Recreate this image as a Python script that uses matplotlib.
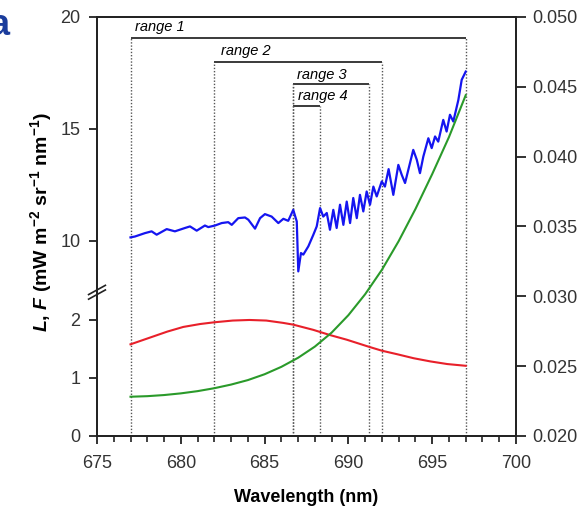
import matplotlib
matplotlib.use("Agg")
import matplotlib.pyplot as plt
import matplotlib.ticker as mticker
import numpy as np

plt.rcParams['font.family'] = ['Liberation Sans', 'DejaVu Sans']
plt.rcParams['mathtext.fontset'] = 'custom'
plt.rcParams['mathtext.rm'] = 'Liberation Sans:bold'
plt.rcParams['mathtext.it'] = 'Liberation Sans:italic:bold'
plt.rcParams['mathtext.bf'] = 'Liberation Sans:bold'

# radiance L (upper part of the broken axis)
wl_L = [677.0, 677.27, 677.86, 678.26, 678.56, 679.16, 679.65, 680.25, 680.55, 680.95,
        681.44, 681.64, 682.04, 682.44, 682.83, 683.04, 683.43, 683.83, 684.03, 684.43,
        684.73, 685.02, 685.42, 685.82, 686.12, 686.41, 686.71, 686.92, 687.01, 687.17,
        687.31, 687.61, 687.91, 688.11, 688.31, 688.50, 688.71, 688.90, 689.10, 689.30,
        689.50, 689.70, 689.90, 690.10, 690.29, 690.50, 690.69, 690.89, 691.09, 691.29,
        691.49, 691.69, 691.99, 692.18, 692.40, 692.68, 692.98, 693.18, 693.38, 693.87,
        694.08, 694.27, 694.47, 694.77, 694.97, 695.17, 695.36, 695.66, 695.86, 696.06,
        696.26, 696.56, 696.76, 697.0]
L = [10.15, 10.19, 10.34, 10.42, 10.27, 10.52, 10.42, 10.57, 10.64, 10.45,
     10.68, 10.61, 10.68, 10.79, 10.83, 10.71, 11.01, 11.04, 10.94, 10.54,
     11.01, 11.19, 11.08, 10.79, 10.98, 10.89, 11.38, 10.86, 8.63, 9.45,
     9.38, 9.75, 10.27, 10.64, 11.46, 11.08, 11.24, 10.49, 11.38, 10.57,
     11.61, 10.71, 11.75, 10.79, 11.91, 11.01, 12.05, 11.31, 12.20, 11.61,
     12.42, 11.98, 12.65, 12.42, 13.20, 12.05, 13.39, 12.95, 12.58, 14.06,
     13.62, 13.02, 13.76, 14.58, 14.14, 14.66, 14.43, 15.40, 14.88, 15.63,
     15.33, 16.29, 17.19, 17.56]

# red curve (lower part of the broken axis)
wl_red = [677.0, 678.2, 679.2, 680.15, 681.15, 682.0, 683.1, 684.1, 685.1, 686.1,
          686.7, 687.9, 688.9, 689.9, 691.2, 692.0, 692.9, 693.9, 694.9, 695.9, 697.0]
red = [1.58, 1.70, 1.80, 1.88, 1.93, 1.96, 1.99, 2.00, 1.99, 1.95,
       1.92, 1.83, 1.74, 1.66, 1.54, 1.47, 1.41, 1.34, 1.285, 1.24, 1.21]

# green curve (right axis)
wl_green = [677, 678, 679, 680, 681, 682, 683, 684, 685, 686, 687,
            688, 689, 690, 691, 692, 693, 694, 695, 696, 697]
green = [0.02281, 0.02285, 0.02293, 0.02305, 0.02321, 0.02342, 0.02368, 0.02400,
         0.02442, 0.02495, 0.02560, 0.02640, 0.02740, 0.02865, 0.03015, 0.03190,
         0.03395, 0.03625, 0.03875, 0.04140, 0.04440]

# spectral ranges: label, start, end, bracket height on the L axis
range_names = ['range 1', 'range 2', 'range 3', 'range 4']
range_start = [677.0, 682.0, 686.7, 686.7]
range_end = [697.0, 692.0, 691.2, 688.3]
range_level = [19.05, 18.0, 17.0, 16.0]
range_top = [19.05, 18.0, 17.0, 17.0]      # top of the left dotted guide
range_top_end = [19.05, 18.0, 17.0, 16.0]  # top of the right dotted guide

left_ticks = [0, 1, 2, 10, 15, 20]

# broken left axis: 0-2.5 and 7.8-20 share the height, the gap squeezed flat
KV = np.array([0.0, 2.5, 7.8, 20.0])
KP = np.array([0.0, 145.0, 146.0, 419.0])


def fwd(v):
    v = np.asarray(v, float)
    return np.where(v < 0, v * 58.0,
                    np.where(v > 20, 419.0 + (v - 20) * 22.4, np.interp(v, KV, KP)))


def inv(p):
    p = np.asarray(p, float)
    return np.where(p < 0, p / 58.0,
                    np.where(p > 419, 20 + (p - 419.0) / 22.4, np.interp(p, KP, KV)))


fig = plt.figure(figsize=(5.79, 5.14), dpi=100)
ax = fig.add_axes([0.1675, 0.1518, 0.7237, 0.8152])
ax.set_yscale('function', functions=(fwd, inv))
ax.set_xlim(675, 700)
ax.set_ylim(0, 20)

ax2 = ax.twinx()
ax2.set_ylim(0.020, 0.050)

# ranges: brackets, dotted guides and labels
for name, a, b, lev, t0, t1 in zip(range_names, range_start, range_end,
                                   range_level, range_top, range_top_end):
    ax.plot([a, b], [lev, lev], color='#3a3a3a', lw=1.4, solid_capstyle='butt')
    ax.vlines(a, 0, t0, colors='#555555', linestyles=(0, (1, 1.3)), lw=1.0)
    ax.vlines(b, 0, t1, colors='#555555', linestyles=(0, (1, 1.3)), lw=1.0)
ax.text(677.25, 19.55, range_names[0], style='italic', fontsize=10.5, va='center')
ax.text(682.4, 18.5, range_names[1], style='italic', fontsize=10.5, va='center')
ax.text(686.95, 17.42, range_names[2], style='italic', fontsize=10.5, va='center')
ax.text(687.0, 16.45, range_names[3], style='italic', fontsize=10.5, va='center')

ax.plot(wl_L, L, color='#1515f0', lw=1.6, solid_joinstyle='round')
ax.plot(wl_red, red, color='#e8202a', lw=1.5)
ax2.plot(wl_green, green, color='#2a9a2a', lw=1.5)

# axes styling
for a_ in (ax, ax2):
    for s in a_.spines.values():
        s.set_color('#222222')
        s.set_linewidth(1.3)
ax.yaxis.set_major_locator(mticker.FixedLocator(left_ticks))
ax.yaxis.set_minor_locator(mticker.NullLocator())
ax.yaxis.set_major_formatter(mticker.FormatStrFormatter('%d'))
ax.xaxis.set_major_locator(mticker.MultipleLocator(5))
ax.xaxis.set_minor_locator(mticker.MultipleLocator(1))
ax.tick_params(axis='both', which='major', labelsize=13, length=6, width=1.3,
               color='#222222', labelcolor='#333333', pad=6)
ax.tick_params(axis='x', which='major', pad=8)
ax.tick_params(axis='x', which='minor', length=4, width=1.2, color='#222222')
ax2.yaxis.set_major_locator(mticker.MultipleLocator(0.005))
ax2.yaxis.set_major_formatter(mticker.FormatStrFormatter('%.3f'))
ax2.tick_params(axis='y', labelsize=13, length=7, width=1.3, color='#222222',
                labelcolor='#333333', pad=5)

# break marks on the left spine
bx = [-0.02, 0.02]
for off in (0.0, 0.011):
    ax.plot(bx, [0.3375 + off - 0.011, 0.3375 + off + 0.011], transform=ax.transAxes,
            color='#222222', lw=1.2, clip_on=False)

ax.set_xlabel('Wavelength (nm)', fontsize=13, fontweight='bold', labelpad=12)
ax.set_ylabel(r'$\it{L}$, $\it{F}$ (mW m$^{-2}$ sr$^{-1}$ nm$^{-1}$)',
              fontsize=14, fontweight='bold')
ax.yaxis.set_label_coords(-0.102, 0.51)

# panel letter at the top-left corner
fig.text(0.018, 0.95, 'a', color='#1a3c9c', fontsize=26, fontweight='bold',
         ha='right', va='center')

fig.savefig('out.png', dpi=100, facecolor='white')
